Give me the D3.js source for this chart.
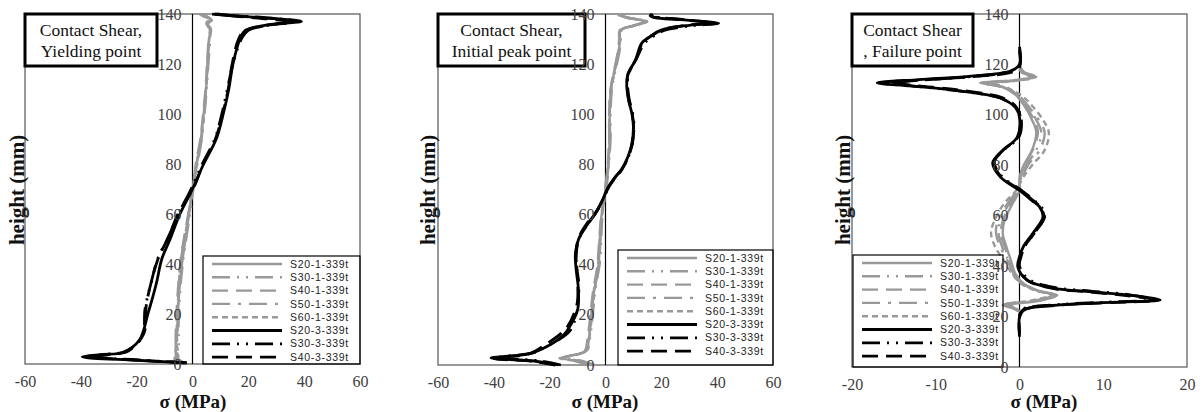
<!DOCTYPE html>
<html>
<head>
<meta charset="utf-8">
<script src="https://cdnjs.cloudflare.com/ajax/libs/d3/7.8.5/d3.min.js"></script>
<style>
	body { margin: 0; background: #fff; }
</style>
</head>
<body>
<script>

//Legend names and tick values
var seriesNames = ["S20-1-339t", "S30-1-339t", "S40-1-339t", "S50-1-339t", "S60-1-339t", "S20-3-339t", "S30-3-339t", "S40-3-339t"];
var yTicks = [0, 20, 40, 60, 80, 100, 120, 140];
var xTicksWide = [-60, -40, -20, 0, 20, 40, 60];
var xTicksNarrow = [-20, -10, 0, 10, 20];

//Yielding point, pairs of [sigma, height]
var yS20_1 = [[-3,0],[-6,1.5],[-5,3],[-6,5],[-5.5,12],[-5,25],[-4,38],[-2.5,50],[-1,62],[0,70],[1.5,80],[3,90],[4,100],[5,112],[5.5,122],[6,130],[6.5,134],[5,136],[7,137.5],[4,139],[2.5,140]];
var yS30_1 = [[-2,0],[-5,2],[-6,4],[-5,7],[-5,15],[-4.5,28],[-3.5,40],[-2,52],[-0.5,63],[0.3,70],[1.8,80],[3.3,90],[4.3,100],[5.2,112],[5.8,122],[6.3,130],[6,134],[5.5,136.5],[6.5,138],[3,140]];
var yS40_1 = [[-4,0],[-6.5,2],[-5.5,4],[-6,8],[-5.8,18],[-5.2,30],[-4.2,42],[-2.8,52],[-1.2,62],[0,70],[1.2,80],[2.8,90],[3.8,100],[4.8,112],[5.3,122],[5.8,130],[6.2,134],[5.2,136],[6.8,137.8],[3.5,140]];
var yS50_1 = [[-3,0],[-5.5,2.5],[-6,5],[-5.5,10],[-5.2,20],[-4.8,32],[-3.8,44],[-2.2,54],[-0.8,64],[0.2,70],[1.6,80],[3.2,90],[4.2,100],[5,112],[5.6,122],[6.1,130],[6.6,134],[5,136.5],[6,138],[2.8,140]];
var yS60_1 = [[-2.5,0],[-6,2],[-5.2,4.5],[-5.8,9],[-5.4,19],[-4.9,31],[-3.9,43],[-2.4,53],[-0.9,63],[0.1,70],[1.4,80],[3,90],[4.1,100],[4.9,112],[5.4,122],[5.9,130],[6.3,134],[5.3,136],[6.6,137.5],[3.2,140]];
var yS20_3 = [[-2,0.5],[-20,1.5],[-39.5,2.8],[-32,3.8],[-25,4.6],[-19,9.6],[-16,20],[-13,32],[-11,42],[-8,50],[-4.5,60],[0,70],[4,80],[8.5,90],[11,100],[13,110],[14.5,120],[17,130],[19,133.5],[28,135.8],[39,137],[28,138.3],[15,139.3],[8,140]];
var yS30_3 = [[-3,0.5],[-22,1.8],[-38,3],[-30,4],[-24,5],[-18,11],[-17,22],[-14.5,34],[-12.5,42],[-9,50],[-5,60],[-0.5,70],[3.5,80],[8,90],[10.5,100],[12.5,110],[14.5,120],[17.5,130],[20,133.5],[30,136],[37,137.2],[26,138.5],[12,139.5],[6,140]];
var yS40_3 = [[-2.5,0.5],[-21,1.6],[-36,2.9],[-29,3.9],[-23,5.2],[-17.5,12],[-16.5,24],[-14,36],[-12,43],[-8.5,51],[-4.8,61],[0.2,70],[3.8,80],[8.2,90],[10.8,100],[12.8,110],[14.2,120],[16.5,130],[18.5,133],[27,135.5],[36,136.8],[27,138],[14,139.3],[9,140]];

//Initial peak point
var iS20_1 = [[-5,0],[-10,1.5],[-16,2.8],[-12,3.8],[-7,5.6],[-6,10],[-5,20],[-4,30],[-2.5,40],[-2,50],[-1.4,60],[0,70],[1,80],[1.5,90],[1.5,100],[2,110],[3,116],[4.7,125],[5.2,130],[5.4,133.6],[10,135.3],[14.7,137],[8,138.5],[4.7,139.6],[4.5,140]];
var iS30_1 = [[-4,0],[-9,1.8],[-15,3],[-11,4],[-6.5,6],[-5.5,11],[-4.5,21],[-3.5,31],[-2,41],[-1.5,51],[-1,61],[0.3,70],[1.2,80],[1.8,90],[1.8,100],[2.3,110],[3.3,116],[5,125],[5.5,130],[5.8,133.5],[10.5,135.5],[13.5,137],[7,138.7],[4,140]];
var iS40_1 = [[-6,0],[-11,1.6],[-15.5,2.9],[-11.5,4],[-7.5,5.5],[-6.5,10],[-5.5,19],[-4.5,29],[-3,39],[-2.3,49],[-1.6,59],[-0.2,70],[0.8,80],[1.3,90],[1.3,100],[1.8,110],[2.8,116],[4.4,125],[4.9,130],[5.1,133.5],[9.5,135.2],[14,137],[7.5,138.6],[5,140]];
var iS50_1 = [[-5.5,0],[-10,1.7],[-14.5,2.9],[-11,3.9],[-7,5.8],[-5.8,10.5],[-4.8,20.5],[-3.8,30.5],[-2.3,40.5],[-1.8,50],[-1.2,60],[0.1,70],[1.1,80],[1.6,90],[1.6,100],[2.1,110],[3.1,116],[4.8,125],[5.3,130],[5.6,133.5],[10.2,135.5],[14.2,137.2],[7.8,138.6],[4.6,140]];
var iS60_1 = [[-4.5,0],[-9.5,1.5],[-16.5,2.7],[-12.5,3.7],[-7.2,5.5],[-6.2,9.5],[-5.2,19.5],[-4.2,29.5],[-2.7,39.5],[-2.1,49.5],[-1.3,59.5],[0,70],[0.9,80],[1.4,90],[1.4,100],[1.9,110],[2.9,116],[4.6,125],[5.1,130],[5.3,133.5],[9.8,135.2],[15,137],[8.2,138.4],[4.8,140]];
var iS20_3 = [[-17,0],[-25,1.5],[-41,2.8],[-35,3.5],[-27.6,4.4],[-20,8],[-15,12],[-13,15],[-10,22],[-9.7,30],[-10.5,38],[-10.8,44],[-9.7,50],[-6.5,56],[-3.6,60.4],[-1,66],[1,71],[3.5,75],[5.7,78],[8,83],[9.4,88],[10,95],[9.5,100],[8.2,106],[7.6,112],[8,116],[10.7,121.6],[13,128.4],[16,131],[20,133.6],[30,135.5],[40.5,136.3],[30,137.5],[16.5,139],[17,140]];
var iS30_3 = [[-16,0],[-24,1.7],[-39,3],[-33,3.8],[-26,4.8],[-21,7.5],[-15.5,11],[-12.5,14],[-10.3,21],[-9.9,29],[-10.2,37],[-10.5,44],[-9.4,50.5],[-6.2,56.5],[-3.3,61],[-0.7,66.5],[1.2,71.2],[3.8,75.3],[6,78.3],[8.3,83.3],[9.6,88.3],[10.2,95.3],[9.8,100],[8.5,106],[7.9,112],[8.3,116],[11,122],[14,128.4],[17,131],[21,133.4],[31,135.3],[39,136.2],[29,137.6],[17.5,139.2],[18,140]];
var iS40_3 = [[-18,0],[-26,1.4],[-40,2.6],[-34,3.4],[-27,4.6],[-21,8.5],[-16,12.5],[-13.5,15.5],[-10.5,23],[-9.5,31],[-10.3,39],[-10.6,45],[-9.5,51],[-6.3,57],[-3.4,61],[-0.8,66.3],[1.1,70.8],[3.6,74.8],[5.8,77.8],[8.1,82.8],[9.5,87.8],[10.1,94.8],[9.6,100],[8.3,106],[7.7,112],[8.1,116],[10.9,121.8],[13.3,128.6],[16.3,131.2],[20.5,133.8],[30.5,135.7],[38,136.5],[29,137.7],[16,139.3],[16.5,140]];

//Failure point
var fS20_1 = [[0,120],[0.5,117],[1.6,115.5],[2,115],[-1,113.5],[-4.7,112.7],[-2,111],[-0.5,108],[0.5,104],[1.5,98],[2,93],[1.5,86],[0.5,80],[0,75],[0,70],[-0.8,65],[-1.8,58],[-2,53],[-1.5,47],[-1,42],[-0.5,37],[0.5,33],[2.5,30],[4.5,28.5],[2,26],[-2,24.6],[-1,23.5],[0,22]];
var fS30_1 = [[0,119],[0.6,116.8],[1.8,115.4],[1.5,114.5],[-1.5,113.3],[-4,112.5],[-1.8,110.8],[-0.3,107.8],[0.8,104],[2,98],[2.6,93],[2,86],[0.8,80],[0.2,75],[-0.2,70],[-1.2,65],[-2.3,58],[-2.5,53],[-2,47],[-1.3,42],[-0.8,37],[0.3,33],[2.2,30.2],[4,28.6],[1.5,26.2],[-1.8,24.8],[-0.8,23.6],[0,22]];
var fS40_1 = [[0,119.5],[0.4,117],[1.4,115.6],[1.8,115.1],[-1.2,113.6],[-4.3,112.8],[-1.7,111.2],[-0.4,108.2],[0.6,104.2],[1.7,98.2],[2.2,93.2],[1.6,86.2],[0.6,80.2],[0.1,75],[-0.1,70],[-1,65],[-2,58],[-2.2,53],[-1.7,47],[-1.1,42],[-0.6,37],[0.4,33],[2.4,30.1],[4.3,28.5],[1.8,26.1],[-1.9,24.7],[-0.9,23.5],[0,22]];
var fS50_1 = [[0,118.5],[0.5,116.5],[1.5,115.3],[1.6,114.8],[-1.3,113.4],[-4.5,112.6],[-1.9,110.9],[-0.2,108],[0.9,104],[2.3,98],[3,93],[2.4,86],[1,80],[0.3,75],[-0.3,70],[-1.4,65],[-2.6,58],[-2.8,53],[-2.2,47],[-1.4,42],[-0.7,37],[0.4,33],[2.3,30.1],[4.2,28.6],[1.7,26.2],[-1.7,24.8],[-0.7,23.6],[0,22]];
var fS60_1 = [[0,118],[0.4,116.5],[1.3,115.2],[1.5,114.7],[-1,113.3],[-3.8,112.4],[-1.5,110.6],[0.2,107.8],[1.4,104],[2.8,98],[3.5,93],[3,86],[1.5,80],[0.4,75],[-0.4,70],[-1.8,65],[-3,58],[-3.4,53],[-2.8,47],[-1.8,42],[-0.9,37],[0.2,33],[2,30.2],[3.8,28.7],[1.3,26.3],[-1.5,24.9],[-0.6,23.7],[0,22]];
var fS20_3 = [[0,127],[0,120],[-1,117.5],[-6,115.3],[-12,114],[-17,112.7],[-13,111.5],[-8.3,110],[-4,108],[-2.3,106.7],[-0.5,103],[0,99],[-0.3,91],[-2,86],[-3.2,81],[-2.3,75.4],[0,70],[1.5,66],[2.4,63.5],[2.8,59.5],[1.6,53],[0.5,48],[0,43.7],[-0.2,39.7],[0.9,34.5],[4,31.3],[8,30],[12.8,28.6],[16.8,26.6],[10,25.5],[4.8,24.6],[0.4,22.6],[0,20],[0,12]];
var fS30_3 = [[0,126],[0,119.5],[-1.2,117.2],[-6.5,115],[-12.5,113.7],[-16,112.5],[-12,111.2],[-7.8,109.7],[-3.7,107.8],[-2,106.3],[-0.3,102.5],[0.2,98.5],[-0.1,91],[-1.8,86.3],[-3,81.3],[-2.1,75.6],[0.2,70.2],[1.7,66.2],[2.6,63.6],[3,59.6],[1.8,53.2],[0.7,48.2],[0.2,44],[0,40],[1.1,34.8],[4.3,31.5],[8.5,30.1],[13,28.7],[15.8,26.8],[9.5,25.6],[4.5,24.7],[0.3,22.8],[0,20.5],[0,13]];
var fS40_3 = [[0,125],[0,119],[-0.8,117],[-5.5,115.2],[-11.5,113.8],[-15,112.8],[-12.5,111.6],[-8,110.2],[-3.8,108.2],[-2.1,106.9],[-0.4,103.2],[0.1,99.2],[-0.2,91.2],[-1.9,86.1],[-3.1,81.1],[-2.2,75.5],[0.1,70.1],[1.6,66.1],[2.5,63.4],[2.9,59.4],[1.7,52.8],[0.6,47.8],[0.1,43.5],[-0.1,39.5],[1,34.3],[4.1,31.1],[8.2,29.8],[12.5,28.4],[16.3,26.5],[9.8,25.4],[4.6,24.5],[0.5,22.5],[0,19.5],[0,14]];

//Line styles for the 8 series
var grey = "#999999";
var seriesColor = [grey, grey, grey, grey, grey, "#000", "#000", "#000"];
var seriesDash = [null, "18,7,2,7,2,7", "16,8", "18,8,3,8", "6,4", null, "18,7,2,7,2,7", "16,8"];
var seriesWidth = [2.4, 2.4, 2.4, 2.4, 2.4, 2.8, 2.8, 2.8];

var serif = "'Liberation Serif', 'Times New Roman', serif";
var plain = function (d) { return String(d); };  // keep hyphen minus like the original

var svg = d3.select("body")
	.append("svg")
	.attr("width", 1204)
	.attr("height", 412);

function drawPanel(p) {
	var x = d3.scaleLinear().domain(p.xDomain).range([p.left, p.right]);
	var y = d3.scaleLinear().domain([0, 140]).range([p.bottom, p.top]);
	var g = svg.append("g");

	//Plot frame
	g.append("rect")
		.attr("x", p.left).attr("y", p.top)
		.attr("width", p.right - p.left).attr("height", p.bottom - p.top)
		.attr("fill", "none")
		.attr("stroke", "#555")
		.attr("stroke-width", 1.2);

	//Vertical line at sigma = 0
	g.append("line")
		.attr("x1", x(0)).attr("x2", x(0))
		.attr("y1", p.top).attr("y2", p.bottom)
		.attr("stroke", "#000")
		.attr("stroke-width", 1.2);

	var line = d3.line()
		.x(function (d) { return x(d[0]); })
		.y(function (d) { return y(d[1]); })
		.curve(d3.curveCatmullRom.alpha(0.5));

	g.selectAll(".curve")
		.data(p.series)
		.enter()
		.append("path")
		.attr("class", "curve")
		.attr("d", line)
		.attr("fill", "none")
		.attr("stroke", function (d, i) { return seriesColor[i]; })
		.attr("stroke-width", function (d, i) { return seriesWidth[i]; })
		.attr("stroke-dasharray", function (d, i) { return seriesDash[i]; })
		.attr("stroke-linejoin", "round");

	//Legend
	var lg = p.legend;
	g.append("rect")
		.attr("x", lg.x).attr("y", lg.y)
		.attr("width", lg.w).attr("height", lg.h)
		.attr("fill", "none")
		.attr("stroke", "#000")
		.attr("stroke-width", 1.2);

	var rows = g.selectAll(".lrow")
		.data(seriesNames)
		.enter()
		.append("g")
		.attr("transform", function (d, i) { return "translate(" + lg.x + "," + (lg.y + 8 + i * 13.3) + ")"; });

	rows.append("line")
		.attr("x1", 9).attr("x2", 79)
		.attr("stroke", function (d, i) { return seriesColor[i]; })
		.attr("stroke-width", function (d, i) { return seriesWidth[i]; })
		.attr("stroke-dasharray", function (d, i) { return seriesDash[i]; });

	rows.append("text")
		.attr("x", 87)
		.attr("dy", "0.35em")
		.attr("font-family", "'Liberation Sans', Arial, sans-serif")
		.attr("font-size", 10.5)
		.attr("letter-spacing", 0.7)
		.attr("fill", "#222")
		.text(function (d) { return d; });

	//Title box
	g.append("rect")
		.attr("x", p.left).attr("y", p.top)
		.attr("width", p.boxW).attr("height", 52)
		.attr("fill", "#fff")
		.attr("stroke", "#000")
		.attr("stroke-width", 3);

	g.selectAll(".ttl")
		.data(p.title)
		.enter()
		.append("text")
		.attr("x", p.left + p.boxW / 2)
		.attr("y", function (d, i) { return p.top + 22 + i * 21; })
		.attr("text-anchor", "middle")
		.attr("font-family", serif)
		.attr("font-size", 17.5)
		.attr("fill", "#111")
		.text(function (d) { return d; });

	//Y axis labels sit beside the zero line
	var yAxis = g.append("g")
		.attr("transform", "translate(" + x(0) + ",0)")
		.call(d3.axisLeft(y).tickValues(yTicks).tickFormat(plain).tickSize(0).tickPadding(11));
	yAxis.select(".domain").remove();
	yAxis.selectAll("text")
		.attr("font-family", serif)
		.attr("font-size", 16)
		.attr("fill", "#404040");

	//X axis labels
	var xAxis = g.append("g")
		.attr("transform", "translate(0," + p.bottom + ")")
		.call(d3.axisBottom(x).tickValues(p.xTicks).tickFormat(plain).tickSize(0).tickPadding(12));
	xAxis.select(".domain").remove();
	xAxis.selectAll("text")
		.attr("font-family", serif)
		.attr("font-size", 16)
		.attr("fill", "#404040");

	//Axis titles
	g.append("text")
		.attr("transform", "translate(" + p.yTitleX + ",190) rotate(-90)")
		.attr("text-anchor", "middle")
		.attr("dy", "0.35em")
		.attr("font-family", serif)
		.attr("font-size", 21)
		.attr("font-weight", "bold")
		.attr("fill", "#111")
		.text("height (mm)");

	//stray zero label that sits on the title
	g.append("text")
		.attr("x", p.yTitleX + 8)
		.attr("y", 212)
		.attr("dy", "0.35em")
		.attr("text-anchor", "middle")
		.attr("font-family", serif)
		.attr("font-size", 15)
		.attr("fill", "#404040")
		.text("0");

	g.append("text")
		.attr("x", p.xTitleX)
		.attr("y", 408)
		.attr("text-anchor", "middle")
		.attr("font-family", serif)
		.attr("font-size", 19)
		.attr("font-weight", "bold")
		.attr("fill", "#111")
		.text("σ (MPa)");
}

drawPanel({
	left: 25, right: 360, top: 14, bottom: 364,
	xDomain: [-60, 60], xTicks: xTicksWide,
	series: [yS20_1, yS30_1, yS40_1, yS50_1, yS60_1, yS20_3, yS30_3, yS40_3],
	legend: { x: 203, y: 256, w: 157, h: 108 },
	boxW: 132, title: ["Contact Shear,", "Yielding point"],
	yTitleX: 17, xTitleX: 193
});

drawPanel({
	left: 438, right: 773, top: 14, bottom: 365,
	xDomain: [-60, 60], xTicks: xTicksWide,
	series: [iS20_1, iS30_1, iS40_1, iS50_1, iS60_1, iS20_3, iS30_3, iS40_3],
	legend: { x: 618, y: 250, w: 155, h: 115 },
	boxW: 147, title: ["Contact Shear,", "Initial peak point"],
	yTitleX: 428, xTitleX: 605
});

drawPanel({
	left: 852, right: 1187, top: 14, bottom: 367,
	xDomain: [-20, 20], xTicks: xTicksNarrow,
	series: [fS20_1, fS30_1, fS40_1, fS50_1, fS60_1, fS20_3, fS30_3, fS40_3],
	legend: { x: 853, y: 255, w: 150, h: 112 },
	boxW: 121, title: ["Contact Shear", ", Failure point"],
	yTitleX: 843, xTitleX: 1044
});

</script>
</body>
</html>
